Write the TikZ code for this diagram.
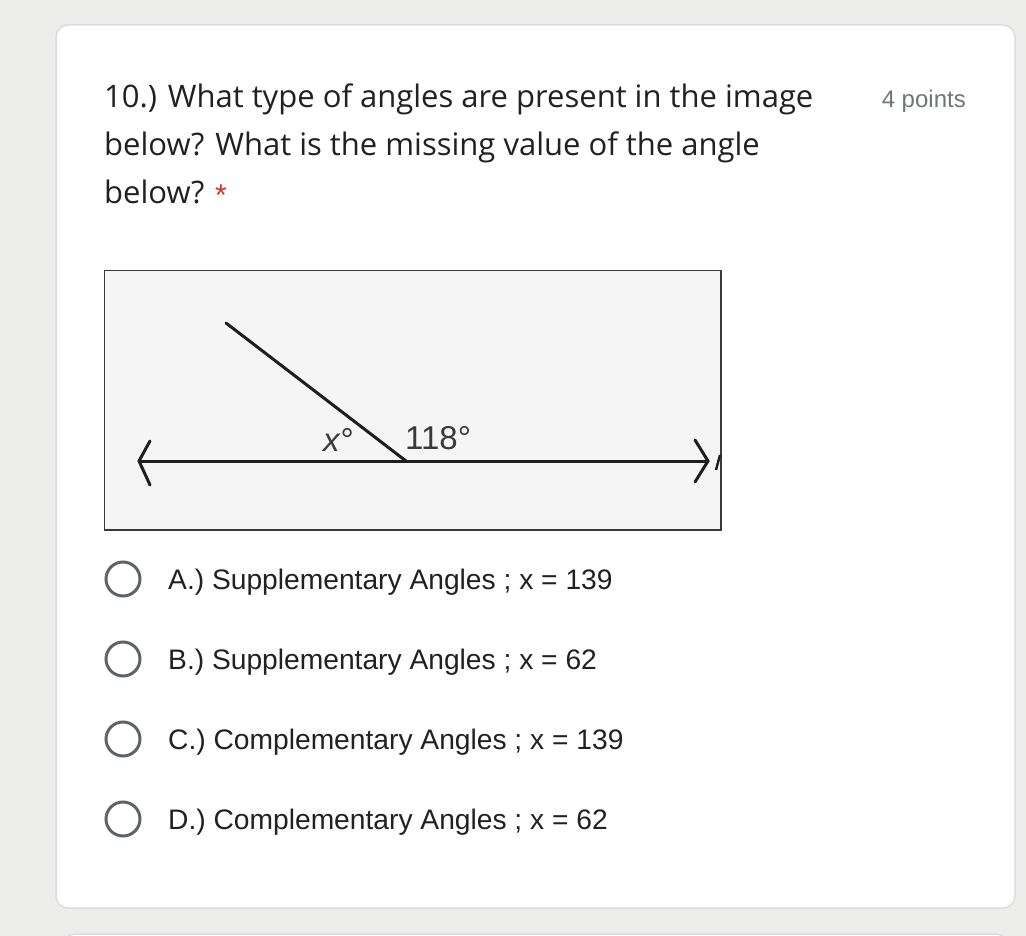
\documentclass[tikz,border=0pt]{standalone}
\usepackage{fontspec}
\setmainfont{Liberation Sans}
\newfontfamily\titlefont{Open Sans}
\definecolor{pagebg}{HTML}{EDEDEB}
\definecolor{cardline}{HTML}{DADCE0}
\definecolor{txt}{HTML}{202124}
\definecolor{greytxt}{HTML}{70757A}
\definecolor{radio}{HTML}{5F6368}
\definecolor{req}{HTML}{D93025}
\definecolor{figbg}{HTML}{F5F5F5}
\definecolor{figline}{HTML}{1E1E1E}
\definecolor{figtxt}{HTML}{3A3A3A}
\tikzset{
  titletext/.style={anchor=base west, inner sep=0pt, text=txt, font=\titlefont\fontsize{31}{36}\selectfont},
  opttext/.style={anchor=base west, inner sep=0pt, text=txt, font=\fontsize{28.2}{34}\selectfont},
  radiobtn/.style={circle, draw=radio, line width=3pt, minimum size=34pt, inner sep=0pt},
  figstroke/.style={draw=figline, line width=3pt, line cap=round, line join=round},
  figlabel/.style={anchor=base west, inner sep=0pt, text=figtxt, font=\fontsize{33}{38}\selectfont}
}
\begin{document}
\begin{tikzpicture}[x=1pt,y=-1pt]
\useasboundingbox (0,0) rectangle (1026,936);
\fill[pagebg] (0,0) rectangle (1026,936);
% card
\draw[cardline, fill=white, line width=1.5pt, rounded corners=12pt] (56,25) rectangle (1015,908);
% next card peeking
\begin{scope}
\clip (0,0) rectangle (1026,936);
\draw[cardline, fill=white, line width=1.5pt, rounded corners=12pt] (63,934) rectangle (1008,980);
\end{scope}
% title
\node[titletext] (t1) at (104,108) {10.) What type of angles are present in the image};
\node[titletext] (t2) at (104,156) {below? What is the missing value of the angle};
\node[titletext] (t3) at (104,204) {below?};
\node[anchor=base west, inner sep=0pt, text=req, font=\fontsize{30}{34}\selectfont] (star) at (215,206) {*};
\node[anchor=base east, inner sep=0pt, text=greytxt, font=\fontsize{24}{28}\selectfont] (pts) at (966,108) {4 points};
% figure
\draw[fill=figbg, draw=figtxt, line width=1.5pt] (104.5,270.5) rectangle (721,530);
\coordinate (L) at (139,461);
\coordinate (R) at (708,461);
\coordinate (V) at (406,461);
\coordinate (T) at (226,323);
\draw[figstroke] (L) -- (R);
\draw[figstroke] (150,441) -- (L) -- (150,485);
\draw[figstroke] (695,440) -- (R) -- (695,482);
\draw[figstroke] (V) -- (T);
\draw[figline, line width=2.4pt] (716,470) -- (720,455);
\node[figlabel] (x) at (323,451) {\itshape x\kern1pt\upshape°};
\node[figlabel] (a) at (405,449) {118°};
% options
\node[radiobtn] (r1) at (123,579) {};
\node[radiobtn] (r2) at (123,659) {};
\node[radiobtn] (r3) at (123,739) {};
\node[radiobtn] (r4) at (123,819) {};
\node[opttext] (o1) at (168,589) {A.) Supplementary Angles ; x = 139};
\node[opttext] (o2) at (168,669) {B.) Supplementary Angles ; x = 62};
\node[opttext] (o3) at (168,749) {C.) Complementary Angles ; x = 139};
\node[opttext] (o4) at (168,829) {D.) Complementary Angles ; x = 62};
\end{tikzpicture}
\end{document}
